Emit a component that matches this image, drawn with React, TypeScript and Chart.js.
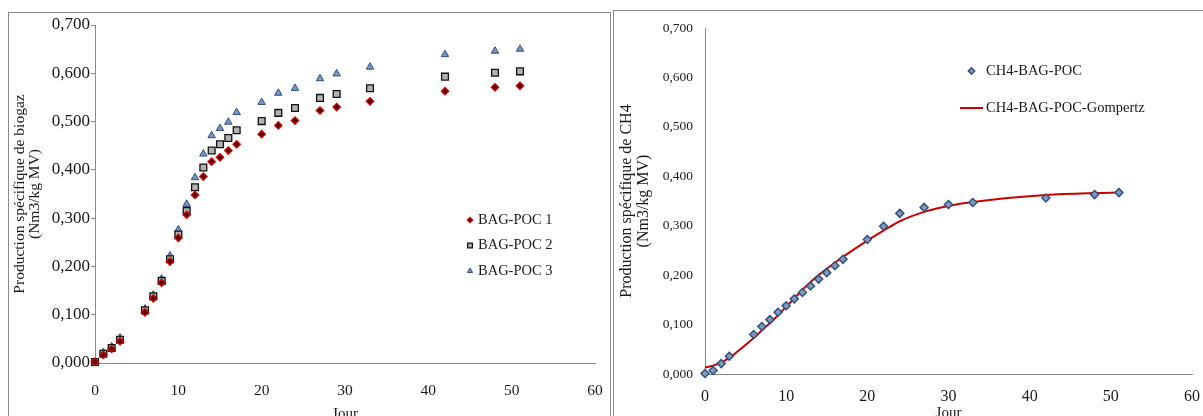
import React, { useEffect, useRef } from 'react';
import { Chart, registerables } from 'chart.js';

Chart.register(...registerables);

const SERIF = "'Liberation Serif', 'Times New Roman', Times, serif";
const TEXT = '#1a1a1a';
const AXIS = '#8a8a8a';

// Biogas production, three replicates (Nm3/kg MV per day of digestion)
const biogasDays = [0, 1, 2, 3, 6, 7, 8, 9, 10, 11, 12, 13, 14, 15, 16, 17, 20, 22, 24, 27, 29, 33, 42, 48, 51];
const bagPoc1 = [0.002, 0.017, 0.029, 0.045, 0.105, 0.134, 0.166, 0.210, 0.259, 0.307, 0.348, 0.386, 0.417, 0.426, 0.440, 0.453, 0.474, 0.492, 0.502, 0.523, 0.530, 0.542, 0.563, 0.571, 0.574];
const bagPoc2 = [0.002, 0.019, 0.031, 0.048, 0.109, 0.138, 0.170, 0.215, 0.266, 0.315, 0.364, 0.405, 0.440, 0.453, 0.466, 0.482, 0.501, 0.518, 0.528, 0.549, 0.557, 0.569, 0.593, 0.601, 0.604];
const bagPoc3 = [0.002, 0.022, 0.034, 0.052, 0.112, 0.141, 0.174, 0.222, 0.276, 0.329, 0.384, 0.433, 0.471, 0.486, 0.499, 0.519, 0.540, 0.559, 0.569, 0.589, 0.599, 0.613, 0.639, 0.646, 0.650];

// Methane production, measured and Gompertz fit
const ch4Days = [0, 1, 2, 3, 6, 7, 8, 9, 10, 11, 12, 13, 14, 15, 16, 17, 20, 22, 24, 27, 30, 33, 42, 48, 51];
const ch4Measured = [0.001, 0.007, 0.021, 0.036, 0.080, 0.096, 0.110, 0.125, 0.138, 0.152, 0.165, 0.178, 0.192, 0.205, 0.219, 0.232, 0.272, 0.299, 0.325, 0.337, 0.343, 0.347, 0.356, 0.363, 0.367];
const ch4Gompertz = [0.013, 0.017, 0.023, 0.033, 0.073, 0.088, 0.103, 0.119, 0.136, 0.153, 0.170, 0.186, 0.200, 0.213, 0.225, 0.237, 0.270, 0.290, 0.309, 0.328, 0.340, 0.348, 0.362, 0.366, 0.367];

const biogasLabels = ['BAG-POC 1', 'BAG-POC 2', 'BAG-POC 3'];
const ch4Labels = ['CH4-BAG-POC', 'CH4-BAG-POC-Gompertz'];
const xAxisTitle = 'Jour';
const biogasYTitle = ['Production spécifique de biogaz', '(Nm3/kg MV)'];
const ch4YTitle = ['Production spécifique de CH4', '(Nm3/kg MV)'];
const yMin = 0;
const yMax = 0.7;
const yStep = 0.1;
const xMin = 0;
const xMax = 60;
const xStep = 10;

const toPoints = (xs: number[], ys: number[]) => xs.map((x, i) => ({ x, y: ys[i] }));
const commaTick = (v: number | string) => Number(v).toFixed(3).replace('.', ',');

function drawSymbol(ctx: CanvasRenderingContext2D, ds: any, x: number, y: number, scale: number, lineHalf: number) {
  ctx.save();
  if (ds.showLine) {
    ctx.strokeStyle = ds.borderColor;
    ctx.lineWidth = ds.borderWidth;
    ctx.beginPath();
    ctx.moveTo(x - lineHalf, y);
    ctx.lineTo(x + lineHalf, y);
    ctx.stroke();
    ctx.restore();
    return;
  }
  const r = ds.pointRadius * scale;
  ctx.fillStyle = ds.backgroundColor;
  ctx.strokeStyle = ds.borderColor;
  ctx.lineWidth = ds.borderWidth;
  ctx.beginPath();
  if (ds.pointStyle === 'rectRot') {
    ctx.moveTo(x, y - r);
    ctx.lineTo(x + r, y);
    ctx.lineTo(x, y + r);
    ctx.lineTo(x - r, y);
  } else if (ds.pointStyle === 'rect') {
    const h = r * Math.SQRT1_2;
    ctx.rect(x - h, y - h, 2 * h, 2 * h);
  } else {
    ctx.moveTo(x, y - r);
    ctx.lineTo(x + r * 0.866, y + r * 0.5);
    ctx.lineTo(x - r * 0.866, y + r * 0.5);
  }
  ctx.closePath();
  ctx.fill();
  ctx.stroke();
  ctx.restore();
}

// Free-floating legend drawn inside the plot area
const floatLegend = {
  id: 'floatLegend',
  afterDraw(chart: any, _args: any, opts: any) {
    if (!opts || !opts.items) return;
    const { ctx } = chart;
    ctx.save();
    ctx.font = `${opts.fontSize}px ${SERIF}`;
    ctx.textBaseline = 'middle';
    ctx.textAlign = 'left';
    opts.items.forEach((label: string, i: number) => {
      const y = opts.y + i * opts.rowGap;
      const ds = chart.data.datasets[i];
      drawSymbol(ctx, ds, opts.markerX, y, opts.markerScale, opts.lineHalf || 0);
      ctx.fillStyle = TEXT;
      ctx.fillText(label, opts.textX, y);
    });
    ctx.restore();
  },
};

function baseOptions(cfg: {
  padTop: number; padRight: number; yWidth: number; xHeight: number;
  yTickSize: number; yTickPad: number; yTicks: boolean;
  xTickSize: number; xTickPad: number;
  yTitle: string[]; yTitleSize: number; yTitleLine: string; yTitlePad: number;
  xTitlePad: number; legend: any;
}) {
  return {
    responsive: false,
    animation: false,
    layout: { padding: { top: cfg.padTop, right: cfg.padRight, left: 0, bottom: 0 } },
    plugins: {
      legend: { display: false },
      tooltip: { enabled: false },
      floatLegend: cfg.legend,
    },
    scales: {
      x: {
        type: 'linear',
        min: xMin,
        max: xMax,
        grid: { display: false, drawTicks: false, tickLength: 0 },
        border: { display: true, color: AXIS, width: 1 },
        ticks: {
          stepSize: xStep,
          color: TEXT,
          padding: cfg.xTickPad,
          maxRotation: 0,
          font: { family: SERIF, size: cfg.xTickSize },
        },
        title: {
          display: true,
          text: xAxisTitle,
          color: TEXT,
          font: { family: SERIF, size: 15 },
          padding: { top: 0, bottom: cfg.xTitlePad },
        },
        afterFit: (s: any) => {
          s.height = cfg.xHeight;
          s.paddingLeft = 0;
          s.paddingRight = 0;
        },
      },
      y: {
        type: 'linear',
        min: yMin,
        max: yMax,
        grid: cfg.yTicks
          ? { display: true, drawOnChartArea: false, drawTicks: true, tickLength: 4, color: AXIS }
          : { display: false, drawTicks: false, tickLength: 0 },
        border: { display: true, color: AXIS, width: 1 },
        ticks: {
          stepSize: yStep,
          color: TEXT,
          padding: cfg.yTickPad,
          callback: commaTick,
          font: { family: SERIF, size: cfg.yTickSize },
        },
        title: {
          display: true,
          text: cfg.yTitle,
          color: TEXT,
          font: { family: SERIF, size: cfg.yTitleSize, lineHeight: cfg.yTitleLine },
          padding: { top: cfg.yTitlePad, bottom: 0 },
        },
        afterFit: (s: any) => {
          s.width = cfg.yWidth;
          s.paddingTop = 0;
          s.paddingBottom = 0;
        },
      },
    },
  };
}

function BiogasChart() {
  const ref = useRef<HTMLCanvasElement>(null);
  useEffect(() => {
    if (!ref.current) return;
    const chart = new Chart(ref.current, {
      type: 'scatter',
      data: {
        datasets: [
          {
            label: biogasLabels[0],
            data: toPoints(biogasDays, bagPoc1),
            pointStyle: 'rectRot',
            pointRadius: 3.6,
            backgroundColor: '#4a0000',
            borderColor: '#d00000',
            borderWidth: 1.4,
            clip: false,
          },
          {
            label: biogasLabels[1],
            data: toPoints(biogasDays, bagPoc2),
            pointStyle: 'rect',
            pointRadius: 4.8,
            backgroundColor: '#b2b2b2',
            borderColor: '#111111',
            borderWidth: 1.3,
            clip: false,
          },
          {
            label: biogasLabels[2],
            data: toPoints(biogasDays, bagPoc3),
            pointStyle: 'triangle',
            pointRadius: 4.3,
            backgroundColor: '#7a96c0',
            borderColor: '#2c4f86',
            borderWidth: 1,
            clip: false,
          },
        ],
      },
      options: baseOptions({
        padTop: 12, padRight: 15, yWidth: 86, xHeight: 70,
        yTickSize: 17, yTickPad: 1, yTicks: true,
        xTickSize: 15.5, xTickPad: 19,
        yTitle: biogasYTitle, yTitleSize: 15.5, yTitleLine: '15px', yTitlePad: 3.5,
        xTitlePad: 10,
        legend: { items: biogasLabels, markerX: 461, textX: 469, y: 207, rowGap: 25.5, fontSize: 14.5, markerScale: 0.7 },
      }) as any,
      plugins: [floatLegend],
    });
    return () => chart.destroy();
  }, []);
  return <canvas ref={ref} width={601} height={420} style={{ display: 'block' }} />;
}

function Ch4Chart() {
  const ref = useRef<HTMLCanvasElement>(null);
  useEffect(() => {
    if (!ref.current) return;
    const chart = new Chart(ref.current, {
      type: 'scatter',
      data: {
        datasets: [
          {
            label: ch4Labels[0],
            data: toPoints(ch4Days, ch4Measured),
            pointStyle: 'rectRot',
            pointRadius: 4,
            backgroundColor: '#8799b4',
            borderColor: '#2f5184',
            borderWidth: 1.5,
            clip: false,
          },
          {
            label: ch4Labels[1],
            data: toPoints(ch4Days, ch4Gompertz),
            showLine: true,
            cubicInterpolationMode: 'monotone',
            pointRadius: 0,
            borderColor: '#cc0000',
            backgroundColor: '#cc0000',
            borderWidth: 2,
            clip: false,
          },
        ],
      },
      options: baseOptions({
        padTop: 17, padRight: 11, yWidth: 91, xHeight: 57,
        yTickSize: 13.5, yTickPad: 12, yTicks: false,
        xTickSize: 16, xTickPad: 13,
        yTitle: ch4YTitle, yTitleSize: 16, yTitleLine: '17px', yTitlePad: 4.5,
        xTitlePad: 9,
        legend: { items: ch4Labels, markerX: 357.5, textX: 372, y: 60, rowGap: 37, fontSize: 14.5, markerScale: 0.8, lineHalf: 11.5 },
      }) as any,
      plugins: [floatLegend],
    });
    return () => chart.destroy();
  }, []);
  return <canvas ref={ref} width={589} height={420} style={{ display: 'block' }} />;
}

export default function App() {
  return (
    <div style={{ position: 'absolute', left: 0, top: 0, width: 1203, height: 416, overflow: 'hidden', background: '#ffffff' }}>
      <div style={{ position: 'absolute', left: 8, top: 12, width: 603, height: 420, boxSizing: 'border-box', border: `1px solid ${AXIS}`, borderBottom: 'none' }}>
        <BiogasChart />
      </div>
      <div style={{ position: 'absolute', left: 613, top: 10, width: 600, height: 420, boxSizing: 'border-box', border: `1px solid ${AXIS}`, borderBottom: 'none', borderRight: 'none' }}>
        <Ch4Chart />
      </div>
    </div>
  );
}
